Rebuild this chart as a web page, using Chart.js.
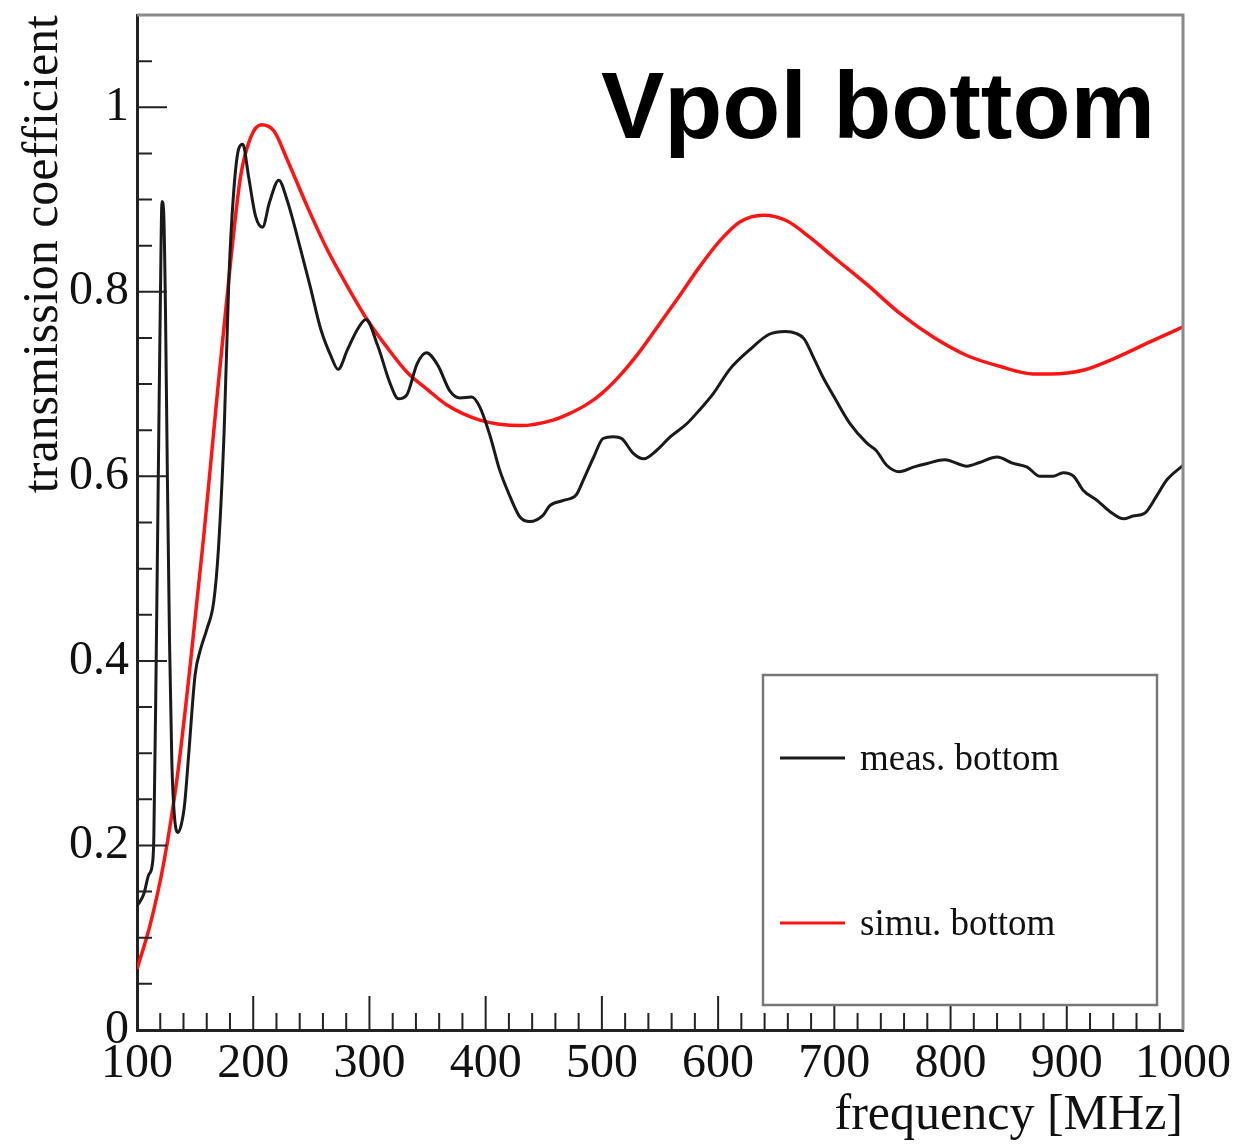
<!DOCTYPE html>
<html>
<head>
<meta charset="utf-8">
<script src="https://cdn.jsdelivr.net/npm/chart.js@4.4.1/dist/chart.umd.min.js"></script>
<style>
  html, body { margin: 0; padding: 0; background: #fff; }
</style>
</head>
<body>
<canvas id="myChart" width="1234" height="1146"></canvas>
<script>
// DATA
const xTicks = [100, 200, 300, 400, 500, 600, 700, 800, 900, 1000];
const yTicks = [0, 0.2, 0.4, 0.6, 0.8, 1];

const measLabel = 'meas. bottom';
const measFreq = [100, 102, 106, 110, 113, 114.5, 116.5, 118.5, 120, 121.5, 123, 124.5, 126, 128, 130, 132, 135, 138, 141, 144.5,
  150, 155, 160, 166, 170, 175, 179, 183, 187.5, 191, 196, 202, 208, 214, 222, 229, 241, 249, 258, 267,
  273, 281, 290, 297, 307, 318, 325, 332, 341, 349, 359, 369, 378, 388, 395, 404, 412, 421, 429.5, 438,
  449.5, 455, 467, 478, 484, 493, 501, 510, 517, 527, 536, 547, 559, 573, 584, 596, 610, 627, 644, 658,
  667, 674, 682, 690, 699, 713, 728, 736, 745, 756, 768, 780, 795, 814, 825, 840, 854, 866, 877, 888,
  897, 906, 914, 926, 937, 949, 957, 967, 977, 986, 1000];
const measVals = [0.135, 0.138, 0.148, 0.168, 0.178, 0.21, 0.40, 0.62, 0.78, 0.898, 0.885, 0.78, 0.615, 0.42, 0.29, 0.235, 0.214, 0.222, 0.245, 0.299,
  0.385, 0.414, 0.434, 0.464, 0.52, 0.65, 0.812, 0.905, 0.955, 0.96, 0.925, 0.882, 0.870, 0.897, 0.921, 0.900, 0.845, 0.806, 0.760, 0.730,
  0.716, 0.737, 0.760, 0.770, 0.742, 0.700, 0.684, 0.688, 0.722, 0.734, 0.720, 0.693, 0.685, 0.686, 0.675, 0.643, 0.607, 0.578, 0.556, 0.551,
  0.558, 0.568, 0.574, 0.580, 0.596, 0.621, 0.641, 0.643, 0.641, 0.625, 0.619, 0.628, 0.643, 0.657, 0.672, 0.690, 0.716, 0.737, 0.754, 0.757,
  0.755, 0.749, 0.729, 0.708, 0.688, 0.658, 0.636, 0.628, 0.612, 0.605, 0.610, 0.614, 0.618, 0.611, 0.615, 0.621, 0.614, 0.610, 0.600, 0.600,
  0.604, 0.600, 0.585, 0.574, 0.562, 0.554, 0.557, 0.560, 0.578, 0.596, 0.612];

const simuLabel = 'simu. bottom';
const simuFreq = [100, 111.5, 123, 134.5, 146, 157.5, 169, 180.5, 189, 197.7, 207, 218, 229, 247, 264, 281, 298, 315, 333, 350,
  367, 395, 430, 458, 472, 487, 500, 516, 533, 550, 567, 584, 602, 619, 639, 659, 679, 699, 728, 757,
  785, 814, 843, 871, 886, 914, 943, 972, 1000];
const simuVals = [0.066, 0.115, 0.181, 0.273, 0.398, 0.536, 0.688, 0.832, 0.924, 0.967, 0.981, 0.974, 0.944, 0.891, 0.845, 0.806, 0.770, 0.740, 0.712, 0.694,
  0.677, 0.661, 0.655, 0.661, 0.668, 0.678, 0.690, 0.710, 0.736, 0.766, 0.796, 0.827, 0.856, 0.876, 0.883, 0.877, 0.859, 0.838, 0.808, 0.776,
  0.751, 0.731, 0.719, 0.711, 0.711, 0.715, 0.729, 0.746, 0.762];

const plotTitle = 'Vpol bottom';

const serif = "'Liberation Serif', 'DejaVu Serif', serif";

// inward ticks, frame, big label and boxed legend (ROOT look)
const rootStyle = {
  id: 'rootStyle',
  afterDatasetsDraw(chart) {
    const { ctx, chartArea: a, scales: { x, y } } = chart;
    ctx.save();
    ctx.strokeStyle = '#222';
    ctx.lineWidth = 2;
    ctx.beginPath();
    for (let v = 100; v <= 1000; v += 20) {
      let px = x.getPixelForValue(v);
      let len = v % 100 === 0 ? 34 : 17;
      ctx.moveTo(px, a.bottom);
      ctx.lineTo(px, a.bottom - len);
    }
    for (let i = 0; i <= 22; i++) {
      let v = i * 0.05;
      let py = y.getPixelForValue(v);
      let len = i % 4 === 0 ? 30 : 15;
      ctx.moveTo(a.left, py);
      ctx.lineTo(a.left + len, py);
    }
    ctx.stroke();

    // top and right frame
    ctx.strokeStyle = '#8a8a8a';
    ctx.lineWidth = 3;
    ctx.beginPath();
    ctx.moveTo(a.left, a.top);
    ctx.lineTo(a.right, a.top);
    ctx.lineTo(a.right, a.bottom);
    ctx.stroke();

    // big label
    ctx.fillStyle = '#000';
    ctx.font = "bold 95px 'Liberation Sans', Arial, sans-serif";
    ctx.textAlign = 'right';
    ctx.textBaseline = 'alphabetic';
    ctx.fillText(plotTitle, a.right - 28, a.top + 123);

    // legend box
    let bx = a.right - 420, by = a.bottom - 355, bw = 394, bh = 330;
    ctx.fillStyle = '#fff';
    ctx.fillRect(bx, by, bw, bh);
    ctx.strokeStyle = '#777';
    ctx.lineWidth = 2.5;
    ctx.strokeRect(bx, by, bw, bh);
    ctx.font = '37px ' + serif;
    ctx.textAlign = 'left';
    ctx.textBaseline = 'middle';
    chart.data.datasets.forEach((ds, i) => {
      let ly = by + 83 + i * 165;
      ctx.strokeStyle = ds.borderColor;
      ctx.lineWidth = 3;
      ctx.beginPath();
      ctx.moveTo(bx + 17, ly);
      ctx.lineTo(bx + 82, ly);
      ctx.stroke();
      ctx.fillStyle = '#111';
      ctx.fillText(ds.label, bx + 97, ly + 2);
    });
    ctx.restore();
  }
};

new Chart(document.getElementById('myChart'), {
  type: 'line',
  data: {
    datasets: [{
      label: measLabel,
      data: measFreq.map((f, i) => ({ x: f, y: measVals[i] })),
      borderColor: '#1a1a1a',
      borderWidth: 3,
      pointRadius: 0,
      cubicInterpolationMode: 'monotone'
    }, {
      label: simuLabel,
      data: simuFreq.map((f, i) => ({ x: f, y: simuVals[i] })),
      borderColor: '#ff1414',
      borderWidth: 3.5,
      pointRadius: 0,
      cubicInterpolationMode: 'monotone'
    }]
  },
  options: {
    responsive: false,
    animation: false,
    layout: { padding: { left: 0, right: 51, top: 15, bottom: 0 } },
    plugins: {
      legend: { display: false },
      tooltip: { enabled: false }
    },
    scales: {
      x: {
        type: 'linear',
        min: 100,
        max: 1000,
        afterBuildTicks: s => { s.ticks = xTicks.map(v => ({ value: v })); },
        afterFit: s => { s.height = 116; s.paddingLeft = 0; s.paddingRight = 0; },
        grid: { display: false, drawTicks: false },
        border: { display: true, color: '#222', width: 3 },
        ticks: {
          color: '#111',
          padding: 6,
          maxRotation: 0,
          autoSkip: false,
          font: { family: serif, size: 48 },
          callback: v => String(v)
        },
        title: {
          display: true,
          text: 'frequency [MHz]',
          align: 'end',
          color: '#111',
          padding: { top: 0, bottom: 0 },
          font: { family: serif, size: 50 }
        }
      },
      y: {
        min: 0,
        max: 1.1,
        afterBuildTicks: s => { s.ticks = yTicks.map(v => ({ value: v })); },
        afterFit: s => { s.width = 137; s.paddingTop = 0; s.paddingBottom = 0; },
        grid: { display: false, drawTicks: false },
        border: { display: true, color: '#222', width: 3 },
        ticks: {
          color: '#111',
          padding: 8,
          autoSkip: false,
          font: { family: serif, size: 48 },
          callback: v => String(v)
        },
        title: {
          display: true,
          text: 'transmission coefficient',
          align: 'end',
          color: '#111',
          padding: { top: 14, bottom: 0 },
          font: { family: serif, size: 50 }
        }
      }
    }
  },
  plugins: [rootStyle]
});
</script>
</body>
</html>
